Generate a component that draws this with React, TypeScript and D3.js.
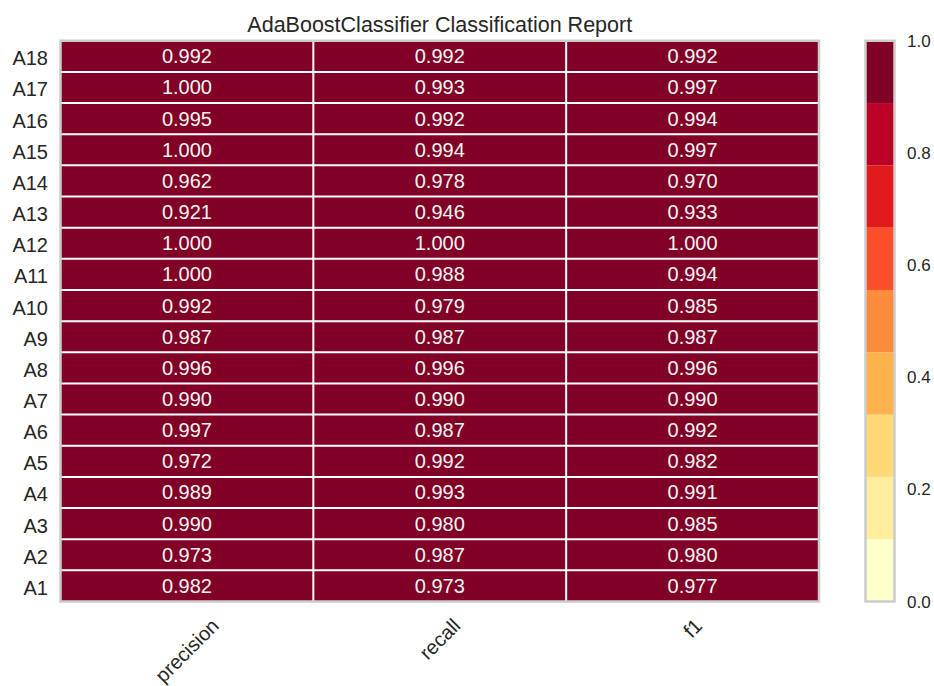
import React from "react";
import * as d3 from "d3";

// Class labels, bottom to top
const classes = [
  "A1", "A2", "A3", "A4", "A5", "A6", "A7", "A8", "A9",
  "A10", "A11", "A12", "A13", "A14", "A15", "A16", "A17", "A18",
];
const metrics = ["precision", "recall", "f1"];

const precision = [0.982, 0.973, 0.99, 0.989, 0.972, 0.997, 0.99, 0.996, 0.987, 0.992, 1.0, 1.0, 0.921, 0.962, 1.0, 0.995, 1.0, 0.992];
const recall = [0.973, 0.987, 0.98, 0.993, 0.992, 0.987, 0.99, 0.996, 0.987, 0.979, 0.988, 1.0, 0.946, 0.978, 0.994, 0.992, 0.993, 0.992];
const f1 = [0.977, 0.98, 0.985, 0.991, 0.982, 0.992, 0.99, 0.996, 0.987, 0.985, 0.994, 1.0, 0.933, 0.97, 0.997, 0.994, 0.997, 0.992];

const colorbarTicks = [0, 0.2, 0.4, 0.6, 0.8, 1.0];

const W = 934;
const H = 686;
const plot = { left: 60.5, right: 819, top: 40.75, bottom: 601.5 };
const cbar = { left: 865.5, right: 894.5 };
const FONT = "'Liberation Sans', Arial, Helvetica, sans-serif";
const TEXT = "#262626";
const EDGE = "#cccccc";

const measureCanvas = typeof document !== "undefined" ? document.createElement("canvas") : null;
function textWidth(s: string, size: number): number {
  const ctx = measureCanvas && measureCanvas.getContext("2d");
  if (!ctx) return s.length * size * 0.5;
  ctx.font = `${size}px ${FONT}`;
  return ctx.measureText(s).width;
}

export default function App() {
  const series = [precision, recall, f1];
  const x = d3.scaleBand<string>().domain(metrics).range([plot.left, plot.right]);
  const y = d3.scaleBand<string>().domain(classes).range([plot.bottom, plot.top]);
  const bins = d3.schemeYlOrRd[9] as readonly string[];
  const color = d3.scaleQuantize<string>().domain([0, 1]).range(bins as string[]);
  const cy = d3.scaleLinear().domain([0, 1]).range([plot.bottom, plot.top]);
  const bandStep = 1 / bins.length;

  const cells: { cls: string; m: string; v: number }[] = [];
  classes.forEach((cls, i) => {
    metrics.forEach((m, j) => cells.push({ cls, m, v: series[j][i] }));
  });

  const xLabelSize = 20;
  const labelTop = 614;

  return (
    <svg
      width={W}
      height={H}
      style={{ position: "fixed", left: 0, top: 0, background: "#fff" }}
      fontFamily={FONT}
    >
      <text x={(plot.left + plot.right) / 2} y={31.5} textAnchor="middle" fontSize={21.5} fill={TEXT}>
        AdaBoostClassifier Classification Report
      </text>

      {/* heatmap cells */}
      {cells.map((c) => (
        <rect
          key={c.cls + c.m}
          x={x(c.m)}
          y={y(c.cls)}
          width={x.bandwidth()}
          height={y.bandwidth()}
          fill={color(c.v)}
        />
      ))}

      {/* white separators between cells */}
      {metrics.slice(1).map((m) => (
        <line key={m} x1={x(m)} x2={x(m)} y1={plot.top} y2={plot.bottom} stroke="#fff" strokeWidth={2} />
      ))}
      {classes.slice(1).map((cls) => {
        const yy = (y(cls) as number) + y.bandwidth();
        return <line key={cls} x1={plot.left} x2={plot.right} y1={yy} y2={yy} stroke="#fff" strokeWidth={2} />;
      })}

      {/* cell values */}
      {cells.map((c) => (
        <text
          key={"t" + c.cls + c.m}
          x={(x(c.m) as number) + x.bandwidth() / 2}
          y={(y(c.cls) as number) + y.bandwidth() / 2 + 7}
          textAnchor="middle"
          fontSize={20}
          fill="#f4f4f4"
        >
          {c.v.toFixed(3)}
        </text>
      ))}

      <rect
        x={plot.left}
        y={plot.top}
        width={plot.right - plot.left}
        height={plot.bottom - plot.top}
        fill="none"
        stroke={EDGE}
        strokeWidth={2.5}
      />

      {/* row labels */}
      {classes.map((cls) => (
        <text
          key={"r" + cls}
          x={48}
          y={(y(cls) as number) + y.bandwidth() / 2 + 9}
          textAnchor="end"
          fontSize={20}
          fill={TEXT}
        >
          {cls}
        </text>
      ))}

      {/* rotated column labels, centred under each column */}
      {metrics.map((m) => {
        const w = textWidth(m, xLabelSize);
        const h = xLabelSize * 1.15;
        const span = (w + h) * Math.SQRT1_2;
        const cx = (x(m) as number) + x.bandwidth() / 2;
        const cyy = labelTop + span / 2;
        return (
          <text
            key={"c" + m}
            x={0}
            y={0}
            transform={`translate(${cx},${cyy}) rotate(-45)`}
            textAnchor="middle"
            dy="0.35em"
            fontSize={xLabelSize}
            fill={TEXT}
          >
            {m}
          </text>
        );
      })}

      {/* colorbar */}
      {bins.map((b, i) => (
        <rect
          key={"cb" + i}
          x={cbar.left}
          y={cy((i + 1) * bandStep)}
          width={cbar.right - cbar.left}
          height={cy(i * bandStep) - cy((i + 1) * bandStep)}
          fill={b}
        />
      ))}
      <rect
        x={cbar.left}
        y={plot.top}
        width={cbar.right - cbar.left}
        height={plot.bottom - plot.top}
        fill="none"
        stroke={EDGE}
        strokeWidth={2.5}
      />
      {colorbarTicks.map((t) => (
        <text key={"ct" + t} x={907} y={cy(t) + 6} fontSize={17} fill={TEXT}>
          {t.toFixed(1)}
        </text>
      ))}
    </svg>
  );
}
